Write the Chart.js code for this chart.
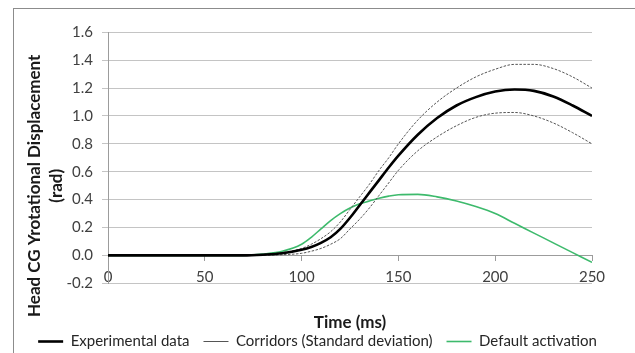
<!DOCTYPE html>
<html>
<head>
<meta charset="utf-8">
<script src="https://cdn.jsdelivr.net/npm/chart.js@4.4.1/dist/chart.umd.min.js"></script>
<style>
  html, body { margin: 0; padding: 0; background: #fff; }
  #wrap { position: relative; width: 635px; height: 353px; overflow: hidden; }
  #frame { position: absolute; left: 13px; top: 8px; width: 700px; height: 400px; border: 1px solid #8c8c8c; }
  #chart { position: absolute; left: 0; top: 0; }
</style>
</head>
<body>
<div id="wrap">
  <div id="frame"></div>
  <canvas id="chart" width="635" height="353"></canvas>
</div>
<script>
// time (ms) of each read-off point
const timeMs = [0, 10, 20, 30, 40, 50, 60, 70, 80, 90, 100, 105, 110, 115, 120, 125, 130, 135, 140, 145, 150, 160, 170, 180, 190, 200, 210, 220, 230, 240, 250];

// head CG Y rotational displacement (rad)
const experimental = [0, 0, 0, 0, 0, 0, 0, 0, 0.005, 0.015, 0.04, 0.06, 0.09, 0.13, 0.19, 0.27, 0.36, 0.45, 0.54, 0.63, 0.715, 0.865, 0.985, 1.075, 1.135, 1.175, 1.19, 1.18, 1.14, 1.075, 1.0];
const corridorUpper = [0, 0, 0, 0, 0, 0, 0, 0.002, 0.008, 0.02, 0.05, 0.08, 0.12, 0.17, 0.24, 0.33, 0.42, 0.51, 0.61, 0.70, 0.80, 0.97, 1.10, 1.20, 1.28, 1.335, 1.37, 1.37, 1.34, 1.28, 1.20];
const corridorLower = [0, 0, 0, 0, 0, 0, 0, 0, 0, 0.005, 0.015, 0.03, 0.05, 0.08, 0.12, 0.19, 0.26, 0.34, 0.43, 0.52, 0.61, 0.75, 0.85, 0.93, 0.99, 1.02, 1.025, 1.0, 0.95, 0.88, 0.80];
const defaultActivation = [0, 0, 0, 0, 0, 0, 0, 0, 0.01, 0.03, 0.08, 0.13, 0.19, 0.25, 0.30, 0.34, 0.37, 0.39, 0.41, 0.425, 0.435, 0.438, 0.42, 0.39, 0.35, 0.30, 0.23, 0.16, 0.09, 0.02, -0.05];

const xTicks = [0, 50, 100, 150, 200, 250];
const yMin = -0.2, yMax = 1.6, yStep = 0.2;
const yTitleLines = ["Head CG Yrotational Displacement", "(rad)"];

const toPoints = vals => vals.map((v, i) => ({ x: timeMs[i], y: v }));

const FONT = "Lato, 'Open Sans', sans-serif";
const GRID = "#c4c4c4";
const AXIS = "#9c9c9c";

// Excel centres the value-axis title a bit lower than the plot area,
// so it is drawn here instead of with the scale title.
const yTitlePlugin = {
  id: "yTitle",
  afterDraw(chart, args, opts) {
    const { ctx, chartArea } = chart;
    const cy = (chartArea.top + chartArea.bottom) / 2 + opts.shift;
    ctx.save();
    ctx.font = `bold ${opts.size}px ${FONT}`;
    ctx.fillStyle = "#1a1a1a";
    ctx.textAlign = "center";
    ctx.textBaseline = "middle";
    opts.lines.forEach((line, i) => {
      ctx.save();
      ctx.translate(opts.x + i * opts.lineGap, cy);
      ctx.rotate(-Math.PI / 2);
      ctx.fillText(line, 0, 0);
      ctx.restore();
    });
    ctx.restore();
  }
};

new Chart(document.getElementById("chart").getContext("2d"), {
  type: "line",
  data: {
    datasets: [
      {
        label: "Experimental data",
        data: toPoints(experimental),
        borderColor: "#000",
        borderWidth: 2.6
      },
      {
        label: "Corridors (Standard deviation)",
        data: toPoints(corridorUpper),
        borderColor: "#555",
        borderWidth: 1,
        borderDash: [2.5, 1.5]
      },
      {
        label: "Corridors lower",
        data: toPoints(corridorLower),
        borderColor: "#555",
        borderWidth: 1,
        borderDash: [2.5, 1.5]
      },
      {
        label: "Default activation",
        data: toPoints(defaultActivation),
        borderColor: "#3dba6c",
        borderWidth: 1.6
      }
    ]
  },
  plugins: [yTitlePlugin],
  options: {
    responsive: false,
    animation: false,
    elements: {
      point: { radius: 0 },
      line: { cubicInterpolationMode: "monotone", fill: false }
    },
    layout: { padding: { left: 0, right: 0, top: 32.3, bottom: -6 } },
    plugins: {
      yTitle: { lines: yTitleLines, x: 35, lineGap: 22, size: 17, shift: 28 },
      legend: {
        position: "bottom",
        weight: 3000,
        labels: {
          usePointStyle: true,
          pointStyle: "line",
          pointStyleWidth: 25,
          padding: 14,
          color: "#262626",
          font: { family: FONT, size: 15 },
          filter: item => item.text !== "Corridors lower"
        }
      },
      title: {
        display: true,
        position: "bottom",
        weight: 500,
        fullSize: false,
        text: "Time (ms)",
        color: "#1a1a1a",
        font: { family: FONT, size: 17, weight: "bold" },
        padding: { top: 29, bottom: -12.7 }
      },
      tooltip: { enabled: false }
    },
    scales: {
      x: {
        type: "linear",
        position: { y: 0 },
        min: 0,
        max: 250,
        afterBuildTicks: s => { s.ticks = xTicks.map(v => ({ value: v })); },
        grid: { drawOnChartArea: false, tickLength: 5, color: AXIS },
        border: { color: AXIS },
        ticks: {
          padding: 8,
          maxRotation: 0,
          color: "#404040",
          font: { family: FONT, size: 15 }
        }
      },
      y: {
        min: yMin,
        max: yMax,
        afterFit: s => { s.width = 108; },
        grid: { color: GRID, tickLength: 6 },
        border: { color: AXIS },
        ticks: {
          stepSize: yStep,
          padding: 9,
          color: "#404040",
          font: { family: FONT, size: 15 },
          callback: v => v.toFixed(1)
        }
      },
      // empty right-hand axis, only keeps the plot clear of the right edge
      yRight: {
        position: "right",
        min: yMin,
        max: yMax,
        afterFit: s => { s.width = 43; },
        grid: { drawOnChartArea: false, drawTicks: false },
        border: { display: false },
        ticks: { display: false }
      }
    }
  }
});
</script>
</body>
</html>
